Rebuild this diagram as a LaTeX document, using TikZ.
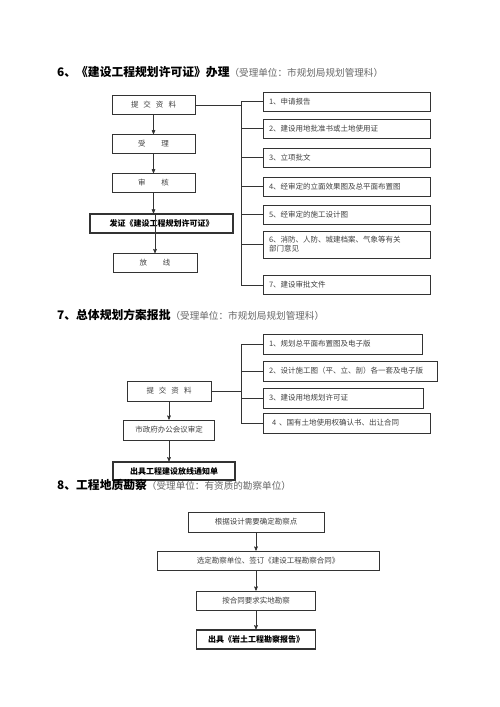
\documentclass[tikz,border=0pt]{standalone}
\usepackage{fontspec}
\setmainfont{Noto Sans CJK SC}
\usetikzlibrary{positioning, arrows}
\tikzset{
>=stealth',
x=1pt, y=-1pt, % one unit is one pixel of the page
box/.style={draw=black!80, line width=0.6pt, minimum height=19pt, inner sep=0pt, text=black!75, font=\fontsize{7.5}{9}\selectfont}, % plain step
keybox/.style={box, line width=1.2pt, text=black, font=\fontsize{8}{9}\selectfont\bfseries}, % bold result step
item/.style={box, align=left, inner xsep=6pt, text width=#1}, % document boxes on the right
title/.style={anchor=west, inner sep=0pt, font=\fontsize{11.8}{13}\selectfont\bfseries},
link/.style={draw=black!80, line width=0.6pt},
}
\newcommand{\unit}[1]{{\fontsize{9.6}{11}\selectfont\mdseries\color{black!60}#1}} % who handles it

\begin{document}
\begin{tikzpicture}
\useasboundingbox (0, 0) rectangle (500, 707);

% 6
\node[title] at (57, 72) (H6) {6、《建设工程规划许可证》办理\unit{（受理单位：市规划局规划管理科）}};
\node[box, minimum width=83pt] at (153.5, 105) (P6a) {提\hspace{5pt}交\hspace{5pt}资\hspace{5pt}料};
\node[box, minimum width=83pt] at (153.5, 144) (P6b) {受\hspace{16pt}理};
\node[box, minimum width=83pt] at (153.5, 183) (P6c) {审\hspace{16pt}核};
\node[keybox, minimum width=143pt] at (161.5, 223.5) (P6d) {发证《建设工程规划许可证》};
\node[box, minimum width=84pt] at (155, 263) (P6e) {放\hspace{16pt}线};
\node[item=155pt] at (346.5, 101.5) (R6a) {1、申请报告};
\node[item=155pt] at (346.5, 128.5) (R6b) {2、建设用地批准书或土地使用证};
\node[item=155pt] at (346.5, 157.5) (R6c) {3、立项批文};
\node[item=155pt] at (346.5, 186.5) (R6d) {4、经审定的立面效果图及总平面布置图};
\node[item=155pt] at (346.5, 214.5) (R6e) {5、经审定的施工设计图};
\node[item=155pt, minimum height=27pt] at (346.5, 244.5) (R6f) {6、消防、人防、城建档案、气象等有关\\部门意见};
\node[item=155pt] at (346.5, 285) (R6g) {7、建设审批文件};
\coordinate (B6) at (241, 0);
\draw[link, ->] (P6a) -- (P6b);
\draw[link, ->] (P6b) -- (P6c);
\draw[link, ->] (P6c.south) -- (P6c.south |- P6d.north);
\draw[link, ->] (P6d.north -| P6e) -- (P6e);
\draw[link] (P6a.east) -- (P6a.east -| B6);
\draw[link] (B6 |- R6a.west) -- (B6 |- R6g.west);
\draw[link] (B6 |- R6a.west) -- (R6a.west);
\draw[link] (B6 |- R6b.west) -- (R6b.west);
\draw[link] (B6 |- R6c.west) -- (R6c.west);
\draw[link] (B6 |- R6d.west) -- (R6d.west);
\draw[link] (B6 |- R6e.west) -- (R6e.west);
\draw[link] (B6 |- R6f.west) -- (R6f.west);
\draw[link] (B6 |- R6g.west) -- (R6g.west);

% 7
\node[title] at (57, 315) (H7) {7、总体规划方案报批\unit{（受理单位：市规划局规划管理科）}};
\node[box, minimum width=84pt, minimum height=20pt] at (169, 391) (P7a) {提\hspace{5pt}交\hspace{5pt}资\hspace{5pt}料};
\node[box, minimum width=91pt, minimum height=20pt] at (169, 430) (P7b) {市政府办公会议审定};
\node[keybox, minimum width=122pt, minimum height=18pt] at (174, 471) (P7c) {出具工程建设放线通知单};
\node[item=147pt, minimum height=20pt] at (342.5, 344) (R7a) {1、规划总平面布置图及电子版};
\node[item=162pt, minimum height=20pt] at (350, 371) (R7b) {2、设计施工图（平、立、剖）各一套及电子版};
\node[item=148pt, minimum height=20pt] at (343, 398) (R7c) {3、建设用地规划许可证};
\node[item=155pt, minimum height=20pt] at (346.5, 423) (R7d) {\hspace{3pt}4\hspace{3pt}、国有土地使用权确认书、出让合同};
\coordinate (B7) at (241, 0);
\draw[link, ->] (P7a) -- (P7b);
\draw[link, ->] (P7b.south) -- (P7b.south |- P7c.north);
\draw[link] (P7a.east) -- (P7a.east -| B7);
\draw[link] (B7 |- R7a.west) -- (B7 |- R7d.west);
\draw[link] (B7 |- R7a.west) -- (R7a.west);
\draw[link] (B7 |- R7b.west) -- (R7b.west);
\draw[link] (B7 |- R7c.west) -- (R7c.west);
\draw[link] (B7 |- R7d.west) -- (R7d.west);

% 8
\node[title] at (57, 485) (H8) {8、工程地质勘察\unit{（受理单位：有资质的勘察单位）}};
\node[box, minimum width=136pt, minimum height=20pt] at (256, 522) (Q1) {根据设计需要确定勘察点};
\node[box, minimum width=222pt] at (268, 560.5) (Q2) {选定勘察单位、签订《建设工程勘察合同》};
\node[box, minimum width=119pt] at (256, 600.5) (Q3) {按合同要求实地勘察};
\node[keybox, minimum width=119pt] at (256, 639.5) (Q4) {出具《岩土工程勘察报告》};
\draw[link, ->] (Q1.south) -- (Q1.south |- Q2.north);
\draw[link, ->] (Q2.south -| Q3) -- (Q3);
\draw[link, ->] (Q3) -- (Q4);

\end{tikzpicture}
\end{document}
